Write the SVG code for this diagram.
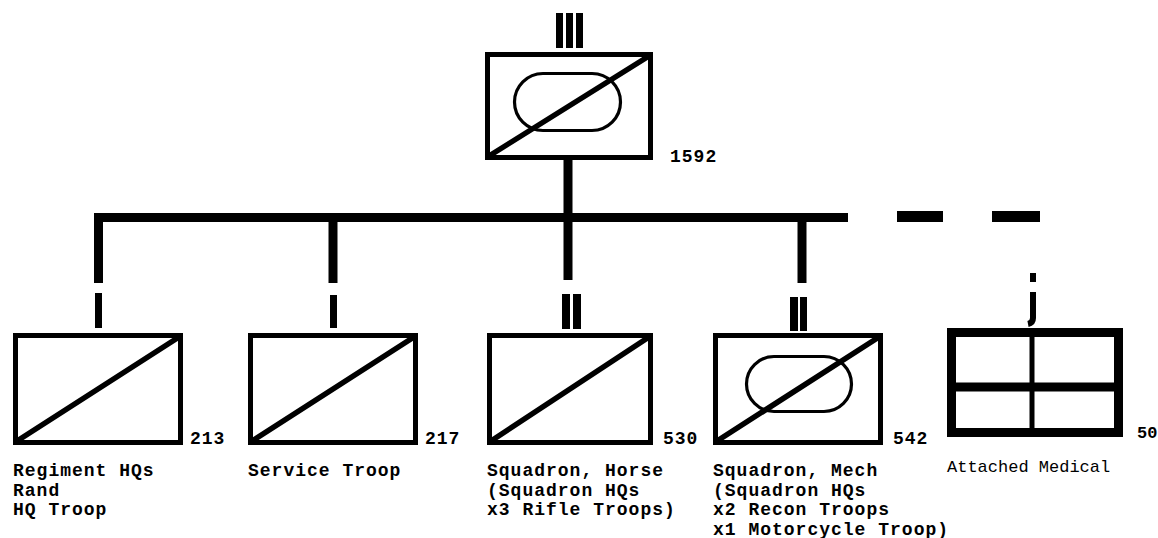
<svg xmlns="http://www.w3.org/2000/svg" width="1158" height="538" viewBox="0 0 1158 538">
<style>
.box{fill:none;stroke:#000;stroke-width:5}
.diag{stroke:#000;stroke-width:5.5;stroke-linecap:round}
.oval{fill:none;stroke:#000;stroke-width:3.2}
.conn{fill:none;stroke:#000;stroke-width:9;stroke-linejoin:miter}
.ech{fill:#000}
.num{font-family:"Liberation Mono","DejaVu Sans Mono",monospace;font-weight:bold;font-size:18px;letter-spacing:1px;fill:#000}
.lbl{font-family:"Liberation Mono","DejaVu Sans Mono",monospace;font-weight:bold;font-size:18px;letter-spacing:1px;fill:#000}
.lt{font-family:"Liberation Mono","DejaVu Sans Mono",monospace;font-size:17px;fill:#000}
</style>
<rect width="1158" height="538" fill="#fff"/>
<g id="connectors">
<path class="conn" d="M98.5 283 V217.5 H848"/>
<path class="conn" d="M333 217 V283"/>
<path class="conn" d="M568 158 V280" stroke-width="8.5"/>
<path class="conn" d="M802 217 V283"/>
<rect class="ech" x="897" y="211" width="46" height="11"/>
<rect class="ech" x="992" y="211" width="48" height="11"/>
</g>
<g id="regiment">
<rect class="ech" x="556" y="13" width="7" height="35"/>
<rect class="ech" x="566" y="13" width="7" height="35"/>
<rect class="ech" x="576" y="13" width="7" height="35"/>
<rect class="box" x="487.5" y="54.5" width="163" height="103"/>
<rect class="oval" x="514.5" y="73.5" width="106" height="57" rx="28.5"/>
<line class="diag" x1="489" y1="156" x2="649" y2="56"/>
<text class="num" x="670" y="162">1592</text>
</g>
<g id="regiment-hq">
<rect class="ech" x="95" y="293" width="7" height="35"/>
<rect class="box" x="15.5" y="335.5" width="165" height="107"/>
<line class="diag" x1="17" y1="441" x2="179" y2="337"/>
<text class="num" x="190" y="444">213</text>
<text class="lbl" x="13" y="476">Regiment HQs</text>
<text class="lbl" x="13" y="495.5">Rand</text>
<text class="lbl" x="13" y="515">HQ Troop</text>
</g>
<g id="service-troop">
<rect class="ech" x="330" y="295" width="7" height="33"/>
<rect class="box" x="250.5" y="335.5" width="165" height="107"/>
<line class="diag" x1="252" y1="441" x2="414" y2="337"/>
<text class="num" x="425" y="444">217</text>
<text class="lbl" x="248" y="476">Service Troop</text>
</g>
<g id="squadron-horse">
<rect class="ech" x="562" y="294" width="8" height="35"/>
<rect class="ech" x="573" y="294" width="8" height="35"/>
<rect class="box" x="489.5" y="335.5" width="161" height="107"/>
<line class="diag" x1="491" y1="441" x2="649" y2="337"/>
<text class="num" x="663" y="444">530</text>
<text class="lbl" x="487" y="476">Squadron, Horse</text>
<text class="lbl" x="487" y="495.5">(Squadron HQs</text>
<text class="lbl" x="487" y="515">x3 Rifle Troops)</text>
</g>
<g id="squadron-mech">
<rect class="ech" x="790" y="297" width="8" height="34"/>
<rect class="ech" x="800" y="297" width="7" height="34"/>
<rect class="box" x="715.5" y="335.5" width="165" height="107"/>
<rect class="oval" x="746.5" y="356.5" width="105" height="55" rx="27.5"/>
<line class="diag" x1="717" y1="441" x2="879" y2="337"/>
<text class="num" x="893" y="444">542</text>
<text class="lbl" x="713" y="476">Squadron, Mech</text>
<text class="lbl" x="713" y="495.5">(Squadron HQs</text>
<text class="lbl" x="713" y="515">x2 Recon Troops</text>
<text class="lbl" x="713" y="534.5">x1 Motorcycle Troop)</text>
</g>
<g id="attached-medical">
<rect class="ech" x="1030" y="273" width="6" height="9"/>
<path d="M1033 292 V318 Q1033 323 1028 324" fill="none" stroke="#000" stroke-width="6"/>
<rect x="951.5" y="332.5" width="167" height="100" fill="none" stroke="#000" stroke-width="9"/>
<line x1="951" y1="387" x2="1119" y2="387" stroke="#000" stroke-width="9"/>
<line x1="1032" y1="333" x2="1032" y2="432" stroke="#000" stroke-width="5"/>
<text class="lt" x="1137" y="438" font-weight="bold">50</text>
<text class="lt" x="947" y="472">Attached Medical</text>
</g>
</svg>
